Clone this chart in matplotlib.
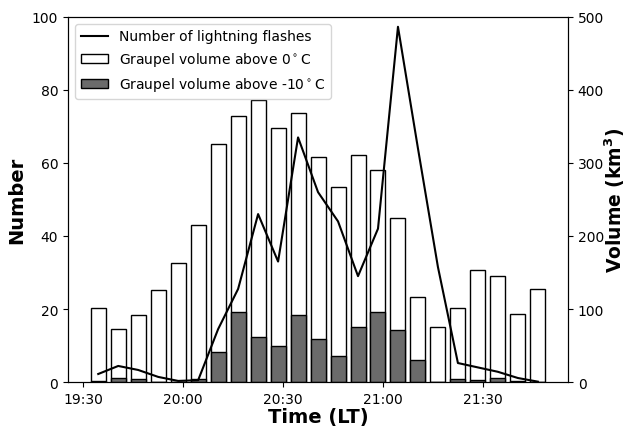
import datetime as dt
import matplotlib
matplotlib.use("Agg")
import matplotlib.pyplot as plt
import matplotlib.dates as mdates

# radar volume scans every 6 minutes
start = dt.datetime(2016, 7, 1, 19, 34, 30)
times = [start + dt.timedelta(minutes=6 * i) for i in range(23)]

flashes = [2.2, 4.4, 3.3, 1.4, 0.3, 0.5, 14.5, 25.5, 46, 33, 67, 52,
           44, 29, 42, 97.3, 64, 31.5, 5.2, 4.0, 2.8, 1.1, 0.1]
vol_0c = [102, 72, 92, 126, 163, 215, 326, 365, 386, 348, 368, 308,
          267, 311, 290, 225, 116, 76, 102, 153, 145, 93, 127]
vol_m10c = [1.5, 5, 3.5, 0, 0, 4.5, 41.5, 96, 61.6, 49, 92, 59.4,
            35, 75.8, 96, 71.7, 30.6, 0.5, 4, 3, 5.5, 1, 0]

fig = plt.figure(figsize=(6.27, 4.27), dpi=100)
ax = fig.add_axes([0.1085, 0.103, 0.7975, 0.855])
ax2 = ax.twinx()

width = dt.timedelta(minutes=4.5)
b1 = ax2.bar(times, vol_0c, width=width, color="white", edgecolor="black", linewidth=1.0)
b2 = ax2.bar(times, vol_m10c, width=width, color="#6b6b6b", edgecolor="black", linewidth=1.0)
l1, = ax.plot(times, flashes, color="black", linewidth=1.5)

# keep the flash curve above the bars
ax.set_zorder(ax2.get_zorder() + 1)
ax.patch.set_visible(False)

ax.set_ylim(0, 100)
ax2.set_ylim(0, 500)
ax.set_yticks([0, 20, 40, 60, 80, 100])
ax2.set_yticks([0, 100, 200, 300, 400, 500])

ax.xaxis.set_major_locator(mdates.MinuteLocator(byminute=[0, 30]))
ax.xaxis.set_major_formatter(mdates.DateFormatter("%H:%M"))

ax.tick_params(labelsize=10)
ax2.tick_params(labelsize=10)

ax.set_xlabel("Time (LT)", fontsize=14, fontweight="bold", labelpad=1)
ax.set_ylabel("Number", fontsize=14, fontweight="bold", labelpad=4)
ax2.set_ylabel("Volume (km$^\\mathbf{3}$)", fontsize=13.5, fontweight="bold", labelpad=-1)

ax.legend([l1, b1, b2],
          ["Number of lightning flashes",
           "Graupel volume above 0$^\\circ$C",
           "Graupel volume above -10$^\\circ$C"],
          loc="upper left", fontsize=10)

fig.savefig("out.png", dpi=100)
